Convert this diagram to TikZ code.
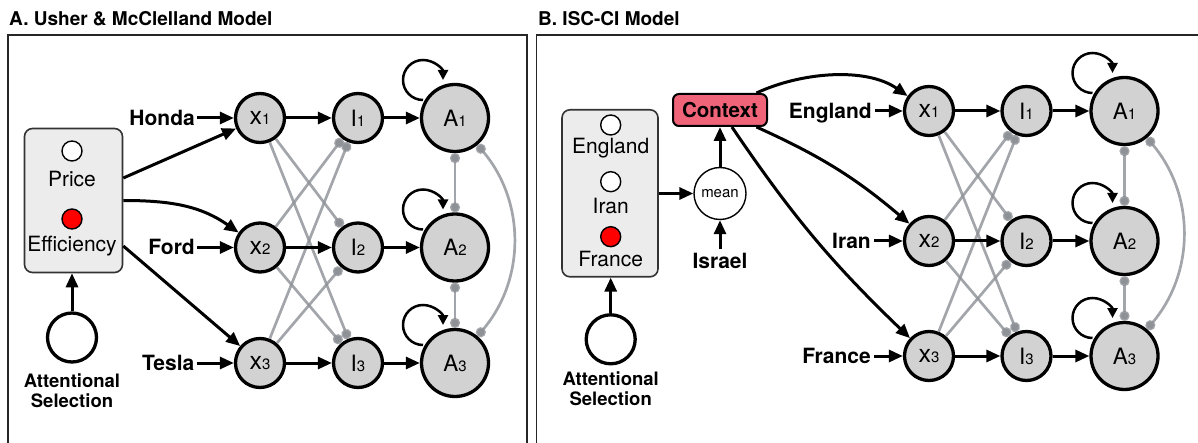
\documentclass[tikz,border=0pt]{standalone}
\usepackage{fontspec}
\setmainfont{TeX Gyre Heros}
\usetikzlibrary{arrows.meta,calc}
\definecolor{nodegray}{RGB}{210,210,210}
\definecolor{boxgray}{RGB}{236,236,236}
\definecolor{inhgray}{RGB}{142,146,151}
\definecolor{ctxred}{RGB}{240,100,122}
\definecolor{attred}{RGB}{255,0,0}
\newcommand\TtlF{\bfseries\fontsize{19}{22}\selectfont}
\newcommand\LblF{\bfseries\fontsize{21}{24}\selectfont}
\newcommand\AttF{\bfseries\fontsize{18.5}{20}\selectfont}
\newcommand\BoxF{\fontsize{21}{24}\selectfont}
\newcommand\CtxF{\bfseries\fontsize{20.5}{24}\selectfont}
\newcommand\MeanF{\fontsize{15}{17}\selectfont}
\newcommand\Xlab[1]{{\fontsize{25}{25}\selectfont x}{\fontsize{15}{15}\selectfont #1}}
\newcommand\Llab[2]{{\fontsize{22.5}{23}\selectfont #1}{\fontsize{15}{15}\selectfont #2}}
\begin{document}
\begin{tikzpicture}[x=1pt,y=1pt,
  frame/.style={draw=black!85, line width=1.3pt},
  ttl/.style={anchor=base west, inner sep=0pt, font=\TtlF},
  lbl/.style={anchor=base east, inner sep=0pt, font=\LblF},
  atttxt/.style={anchor=base, inner sep=0pt, font=\AttF},
  boxtxt/.style={anchor=base, inner sep=0pt, font=\BoxF},
  unit/.style={circle, draw=black, line width=3.3pt, fill=nodegray, minimum size=49pt, inner sep=0pt},
  acc/.style={unit, minimum size=67pt},
  arr/.style={line width=3pt, -{Triangle[length=14pt,width=12pt]}},
  loopar/.style={line width=2.5pt, -{Triangle[length=10pt,width=10pt]}},
  inh/.style={draw=inhgray, draw opacity=0.82, line width=2.7pt, -{Circle[length=10pt]}},
  inhb/.style={draw=inhgray, draw opacity=0.82, line width=2.7pt, {Circle[length=10pt]}-{Circle[length=10pt]}},
  attbox/.style={draw=black!80, line width=1.6pt, fill=boxgray, rounded corners=8pt, inner sep=0pt},
  dotc/.style={circle, draw=black, line width=1.4pt, minimum size=20pt, inner sep=0pt, fill=white},
  attc/.style={circle, draw=black, line width=3.3pt, minimum size=49pt, inner sep=0pt, fill=white},
  meanc/.style={circle, draw=black, line width=1.4pt, minimum size=52pt, inner sep=0pt, fill=white, font=\MeanF},
  ctxbox/.style={draw=black, line width=2pt, fill=ctxred, rounded corners=6pt, minimum width=94pt, minimum height=32pt, inner sep=0pt, font=\CtxF}
]
\useasboundingbox (0,0) rectangle (1198,-443);
% frames
\draw[frame] (8,-35) rectangle (527,-480);
\draw[frame] (536.5,-35) rectangle (1240,-480);
\node[ttl] (ttlA) at (9,-26) {A. Usher \& McClelland Model};
\node[ttl] (ttlB) at (538,-26) {B. ISC-CI Model};

% ---------------- Panel A ----------------
\node[attbox, minimum width=98pt, minimum height=144pt] (boxA) at (73.5,-200.5) {};
\node[dotc] (priceC) at (72,-151) {};
\node[boxtxt] (priceT) at (72,-187) {Price};
\node[dotc, fill=attred] (effC) at (72,-219) {};
\node[boxtxt] (effT) at (72,-252) {Efficiency};
\node[attc] (attA) at (72,-337.5) {};
\node[atttxt] (attA1) at (72,-387) {Attentional};
\node[atttxt] (attA2) at (72,-407) {Selection};
\draw[arr] (attA) -- (attA |- boxA.south);

\node[unit] (ax1) at (260,-118) {\Xlab{1}};
\node[unit] (ax2) at (260,-247.5) {\Xlab{2}};
\node[unit] (ax3) at (260,-363) {\Xlab{3}};
\node[unit] (aI1) at (358,-118) {\Llab{I}{1}};
\node[unit] (aI2) at (358,-247.5) {\Llab{I}{2}};
\node[unit] (aI3) at (358,-363) {\Llab{I}{3}};
\node[acc] (aA1) at (455,-118) {\Llab{A}{1}};
\node[acc] (aA2) at (455,-247.5) {\Llab{A}{2}};
\node[acc] (aA3) at (455,-363) {\Llab{A}{3}};

\node[lbl] (honda) at (195,-125.5) {Honda};
\node[lbl] (ford) at (195,-255) {Ford};
\node[lbl] (tesla) at (194.5,-370.5) {Tesla};
\draw[arr] ($(honda.east |- ax1)+(2,0)$) -- (ax1);
\draw[arr] ($(ford.east |- ax2)+(2,0)$) -- (ax2);
\draw[arr] ($(tesla.east |- ax3)+(2,0)$) -- (ax3);

\draw[arr] ($(boxA.east)+(0,22.5)$) -- (ax1);
\draw[arr] (boxA.east) to[out=0, in=145] (ax2);
\draw[arr] ($(boxA.east)+(0,-45.5)$) -- (ax3);

% ---------------- Panel B ----------------
\node[attbox, minimum width=96pt, minimum height=167pt] (boxB) at (610,-193.3) {};
\node[dotc] (engC) at (610.7,-125) {};
\node[boxtxt] (engT) at (610.7,-153.5) {England};
\node[dotc] (iranC) at (610.7,-181.7) {};
\node[boxtxt] (iranT) at (610.7,-213.3) {Iran};
\node[dotc, fill=attred] (fraC) at (610.7,-236.7) {};
\node[boxtxt] (fraT) at (610.7,-266.5) {France};
\node[attc] (attB) at (610.7,-339.3) {};
\node[atttxt] (attB1) at (610.7,-385.5) {Attentional};
\node[atttxt] (attB2) at (610.7,-405.5) {Selection};
\draw[arr] (attB) -- (attB |- boxB.south);

\node[meanc] (mean) at (720,-193.5) {mean};
\node[ctxbox] (ctx) at (720,-110) {Context};
\node[lbl, anchor=base] (israel) at (720,-269) {Israel};
\draw[arr] (boxB.east |- mean) -- (mean);
\draw[arr] (mean) -- (ctx);
\draw[arr] ($(israel.north)+(0,4)$) -- (mean);

\node[unit] (bx1) at (929,-111) {\Xlab{1}};
\node[unit] (bx2) at (929,-241) {\Xlab{2}};
\node[unit] (bx3) at (929,-356) {\Xlab{3}};
\node[unit] (bI1) at (1026.5,-111) {\Llab{I}{1}};
\node[unit] (bI2) at (1026.5,-241) {\Llab{I}{2}};
\node[unit] (bI3) at (1026.5,-356) {\Llab{I}{3}};
\node[acc] (bA1) at (1124.5,-111) {\Llab{A}{1}};
\node[acc] (bA2) at (1124.5,-241) {\Llab{A}{2}};
\node[acc] (bA3) at (1124.5,-356) {\Llab{A}{3}};

\node[lbl] (england) at (872,-118.5) {England};
\node[lbl] (iran) at (871,-248.5) {Iran};
\node[lbl] (france) at (871,-363.5) {France};
\draw[arr] ($(england.east |- bx1)+(3,0)$) -- (bx1);
\draw[arr] ($(iran.east |- bx2)+(3,0)$) -- (bx2);
\draw[arr] ($(france.east |- bx3)+(3,0)$) -- (bx3);

\draw[arr] (ctx.25) to[out=25, in=145, looseness=0.85] (bx1);
\draw[arr] (ctx.-25) to[bend left=8] (bx2);
\draw[arr] (ctx.-55) to[bend right=6] (bx3);

% ---------------- shared network links ----------------
\foreach \s/\t in {x1/I2,x1/I3,x2/I1,x2/I3,x3/I1,x3/I2}{
  \draw[inh] (a\s) -- (a\t);
  \draw[inh] (b\s) -- (b\t);
}
\foreach \p in {a,b}{
  \draw[inhb] (\p A1) -- (\p A2);
  \draw[inhb] (\p A2) -- (\p A3);
  \draw[inhb] (\p A1) to[out=-50, in=50] (\p A3);
  \foreach \i in {1,2,3}{
    \draw[arr] (\p x\i) -- (\p I\i);
    \draw[arr] (\p I\i) -- (\p A\i);
    \draw[loopar] ($(\p A\i)+(-32,18)$) arc[start angle=270, end angle=0, radius=20];
  }
}
\end{tikzpicture}
\end{document}
